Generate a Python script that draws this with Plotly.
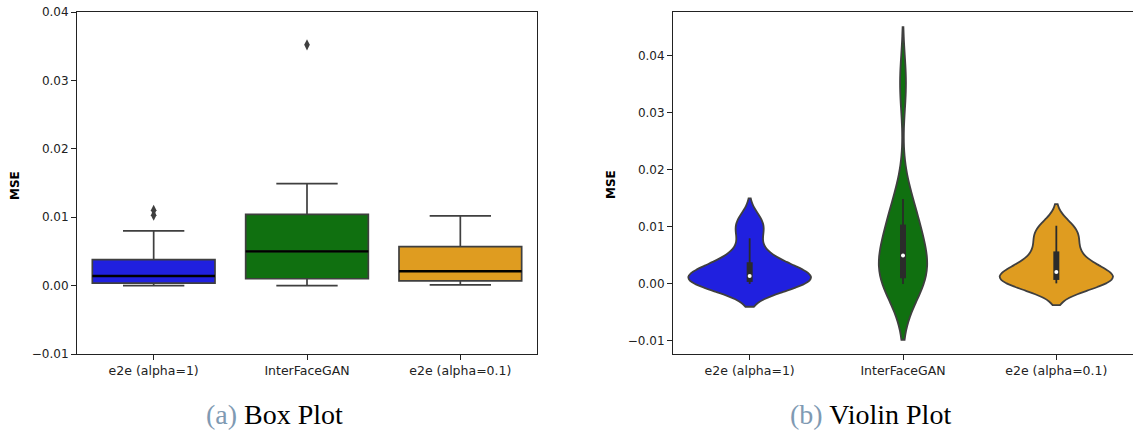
import numpy as np
import plotly.graph_objects as go

categories = ["e2e (alpha=1)", "InterFaceGAN", "e2e (alpha=0.1)"]
colors = ["#2020df", "#107010", "#df9c20"]

mse_e2e_alpha1 = [0.0000, 0.0001, 0.0002, 0.0003, 0.00035, 0.0006, 0.0009,
                  0.0012, 0.0014, 0.0019, 0.0026, 0.0033, 0.0038, 0.0052,
                  0.0080, 0.0103, 0.0110]
mse_interfacegan = [0.0000, 0.0003, 0.0006, 0.0010, 0.0020, 0.0035, 0.0050,
                    0.0065, 0.0085, 0.0104, 0.0125, 0.0149, 0.0352]
mse_e2e_alpha01 = [0.0001, 0.0003, 0.0005, 0.0007, 0.0010, 0.0014, 0.0021,
                   0.0030, 0.0042, 0.0057, 0.0075, 0.0090, 0.0102]
series = [mse_e2e_alpha1, mse_interfacegan, mse_e2e_alpha01]
kde_bandwidths = [0.0020, 0.0049, 0.0019]

y_ticks_box = [-0.01, 0.0, 0.01, 0.02, 0.03, 0.04]
y_ticks_violin = [-0.01, 0.0, 0.01, 0.02, 0.03, 0.04]


def fmt(v):
    return f"{v:.2f}".replace("-", "\u2212")


def box_stats(vals):
    arr = np.array(vals)
    q1, med, q3 = np.percentile(arr, [25, 50, 75])
    lim = 1.5 * (q3 - q1)
    lo = arr[arr >= q1 - lim].min()
    hi = arr[arr <= q3 + lim].max()
    out = arr[(arr < lo) | (arr > hi)]
    return q1, med, q3, lo, hi, out


def kde_max(vals, bw):
    arr = np.array(vals)
    grid = np.linspace(arr.min() - 2 * bw, arr.max() + 2 * bw, 600)
    dens = np.exp(-0.5 * ((grid[:, None] - arr[None, :]) / bw) ** 2).sum(1)
    return (dens / (len(arr) * bw * np.sqrt(2 * np.pi))).max()


W, H = 1133, 432
TOP, BOT = 12, 354
PH = BOT - TOP
EDGE = "#3f3f3f"
AXC = "#222222"

fig = go.Figure()

# ---- Box plot (left)
for i, (cat, col, vals) in enumerate(zip(categories, colors, series)):
    q1, med, q3, lo, hi, out = box_stats(vals)
    fig.add_trace(go.Box(
        x=[i], q1=[q1], median=[med], q3=[q3], lowerfence=[lo], upperfence=[hi],
        name=cat, xaxis="x", yaxis="y", width=0.8, boxpoints=False,
        fillcolor=col, line=dict(color=EDGE, width=1.7),
        whiskerwidth=0.5, showlegend=False, hoverinfo="skip"))
    fig.add_trace(go.Scatter(
        x=[i - 0.4, i + 0.4], y=[med, med], mode="lines", xaxis="x", yaxis="y",
        line=dict(color="#000000", width=2.4), showlegend=False, hoverinfo="skip"))
    if len(out):
        fig.add_trace(go.Scatter(
            x=[i] * len(out), y=out, mode="markers", xaxis="x", yaxis="y",
            marker=dict(symbol="diamond-tall", color=EDGE, size=8),
            showlegend=False, hoverinfo="skip"))

# ---- Violin plot (right), seaborn "area" scaling
maxes = [kde_max(v, b) for v, b in zip(series, kde_bandwidths)]
gmax = max(maxes)
for i, (cat, col, vals, bw) in enumerate(zip(categories, colors, series, kde_bandwidths)):
    fig.add_trace(go.Violin(
        x=[i] * len(vals), y=vals, name=cat, xaxis="x2", yaxis="y2",
        bandwidth=bw, spanmode="soft", width=0.8 * maxes[i] / gmax,
        points=False, box=dict(visible=False), meanline=dict(visible=False),
        fillcolor=col, opacity=1, line=dict(color=EDGE, width=1.8),
        showlegend=False, hoverinfo="skip"))
    q1, med, q3, lo, hi, out = box_stats(vals)
    fig.add_trace(go.Scatter(
        x=[i, i], y=[lo, hi], mode="lines", xaxis="x2", yaxis="y2",
        line=dict(color="#2b2b2b", width=1.8), showlegend=False, hoverinfo="skip"))
    fig.add_trace(go.Scatter(
        x=[i, i], y=[q1, q3], mode="lines", xaxis="x2", yaxis="y2",
        line=dict(color="#2b2b2b", width=6), showlegend=False, hoverinfo="skip"))
    fig.add_trace(go.Scatter(
        x=[i], y=[med], mode="markers", xaxis="x2", yaxis="y2",
        marker=dict(color="white", size=4), showlegend=False, hoverinfo="skip"))

ytickfont = dict(family="DejaVu Sans", size=12, color=AXC)
xtickfont = dict(family="DejaVu Sans", size=12.5, color=AXC)
common_x = dict(tickmode="array", tickvals=[0, 1, 2], ticktext=categories,
                range=[-0.5, 2.5], showgrid=False, zeroline=False,
                showline=True, mirror=True, linecolor=AXC, linewidth=1,
                ticks="outside", ticklen=5, tickcolor=AXC, tickfont=xtickfont)
common_y = dict(showgrid=False, zeroline=False, showline=True, mirror=True,
                linecolor=AXC, linewidth=1, ticks="outside", ticklen=5,
                tickcolor=AXC, tickfont=ytickfont, tickmode="array")


def py(ypx):
    return (BOT - ypx) / PH


fig.update_layout(
    width=W, height=H,
    margin=dict(l=0, r=0, t=TOP, b=H - BOT),
    paper_bgcolor="white", plot_bgcolor="white",
    boxmode="overlay", violinmode="overlay",
    xaxis=dict(domain=[77 / W, 537 / W], anchor="y", **common_x),
    yaxis=dict(anchor="x", range=[-0.01, 0.04], tickvals=y_ticks_box,
               ticktext=[fmt(v) for v in y_ticks_box], **common_y),
    xaxis2=dict(domain=[673 / W, 1.0], anchor="y2", **common_x),
    yaxis2=dict(anchor="x2", range=[-0.01228, 0.04766], tickvals=y_ticks_violin,
                ticktext=[fmt(v) for v in y_ticks_violin], **common_y),
    annotations=[
        dict(text="<b>MSE</b>", x=15 / W, y=py(186), xref="paper", yref="paper",
             yanchor="middle", xanchor="center", textangle=-90, showarrow=False,
             font=dict(family="DejaVu Sans", size=12, color="#000")),
        dict(text="<b>MSE</b>", x=611 / W, y=py(185), xref="paper", yref="paper",
             yanchor="middle", xanchor="center", textangle=-90, showarrow=False,
             font=dict(family="DejaVu Sans", size=12, color="#000")),
        dict(text='<span style="color:#7f9ab3">(a)</span> Box Plot',
             x=274 / W, y=py(414), xref="paper", yref="paper",
             xanchor="center", yanchor="middle", showarrow=False,
             font=dict(family="Liberation Serif", size=28, color="#000")),
        dict(text='<span style="color:#7f9ab3">(b)</span> Violin Plot',
             x=870 / W, y=py(414), xref="paper", yref="paper",
             xanchor="center", yanchor="middle", showarrow=False,
             font=dict(family="Liberation Serif", size=28, color="#000")),
    ],
)

fig.write_html("out.html", config={"displayModeBar": False},
               post_script="document.body.style.margin='0px';document.body.style.overflow='hidden';")
